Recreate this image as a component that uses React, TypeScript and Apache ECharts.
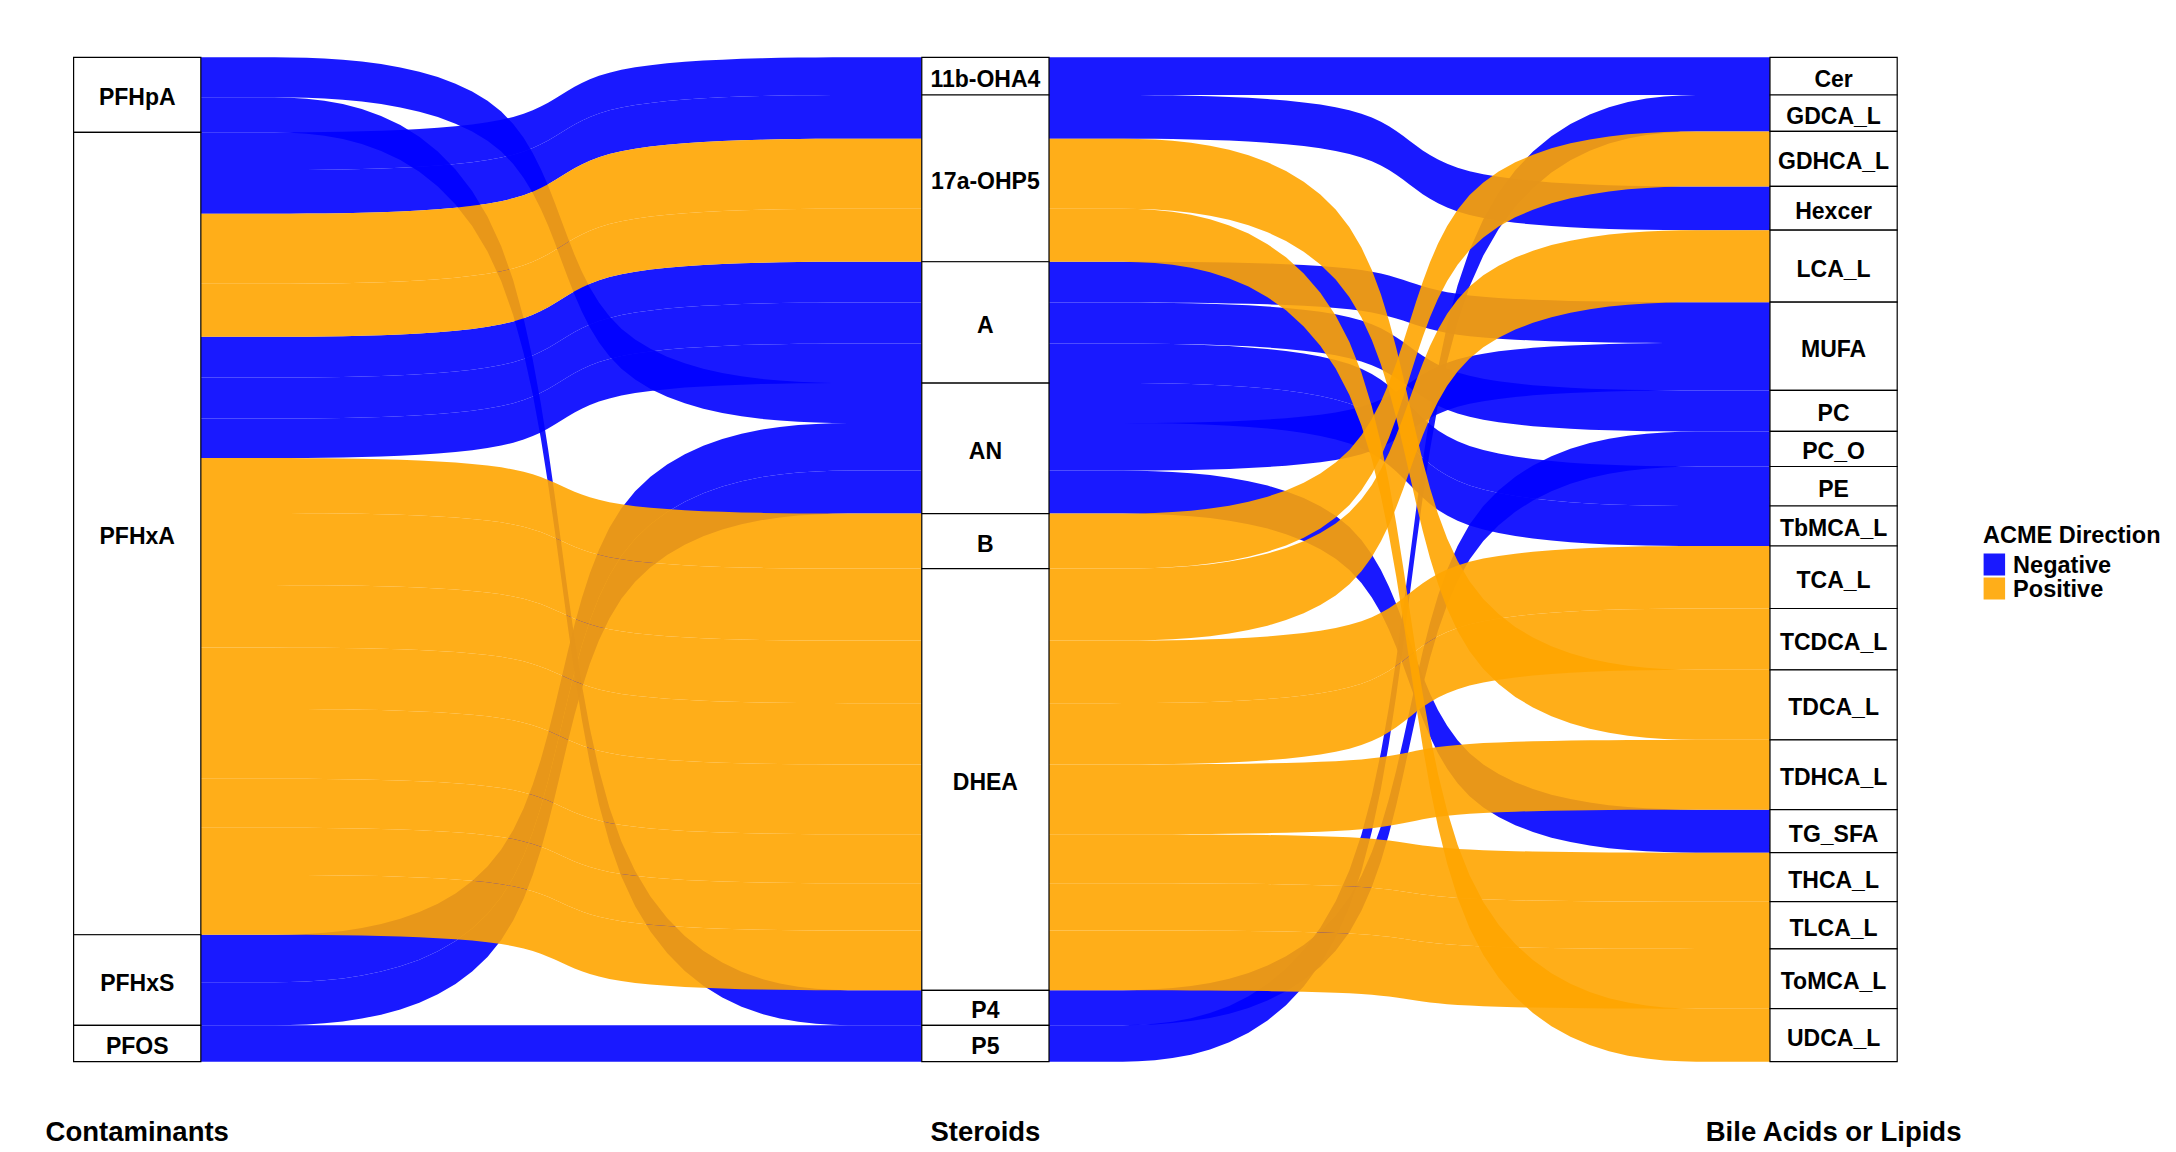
import React, { useEffect, useRef } from "react";
import * as echarts from "echarts";

// ---------- data ----------
const contaminants = ["PFHpA", "PFHxA", "PFHxS", "PFOS"];
const steroids = ["11b-OHA4", "17a-OHP5", "A", "AN", "B", "DHEA", "P4", "P5"];
const outcomes = [
  "Cer", "GDCA_L", "GDHCA_L", "Hexcer", "LCA_L", "MUFA", "PC", "PC_O", "PE", "TbMCA_L",
  "TCA_L", "TCDCA_L", "TDCA_L", "TDHCA_L", "TG_SFA", "THCA_L", "TLCA_L", "ToMCA_L", "UDCA_L",
];
const axisTitles = ["Contaminants", "Steroids", "Bile Acids or Lipids"];
const directions = ["Negative", "Positive"];

// one entry per alluvium (contaminant -> steroid -> bile acid / lipid)
const alluviumContaminant = [
  "PFHpA", "PFHpA", "PFHxA", "PFHxA", "PFHxA", "PFHxA", "PFHxA", "PFHxA", "PFHxA", "PFHxA",
  "PFHxA", "PFHxA", "PFHxA", "PFHxA", "PFHxA", "PFHxA", "PFHxA", "PFHxS", "PFHxS", "PFOS",
];
const alluviumSteroid = [
  "AN", "P4", "11b-OHA4", "17a-OHP5", "17a-OHP5", "17a-OHP5", "A", "A", "A", "B",
  "DHEA", "DHEA", "DHEA", "DHEA", "DHEA", "DHEA", "DHEA", "AN", "AN", "P5",
];
const alluviumOutcome = [
  "TbMCA_L", "PC_O", "Cer", "Hexcer", "TDCA_L", "UDCA_L", "MUFA", "PC", "PE", "GDHCA_L",
  "LCA_L", "TCA_L", "TCDCA_L", "TDHCA_L", "THCA_L", "TLCA_L", "ToMCA_L", "MUFA", "TG_SFA", "GDCA_L",
];
const alluviumDirection = [
  "Negative", "Negative", "Negative", "Negative", "Positive", "Positive", "Negative", "Negative", "Negative", "Positive",
  "Positive", "Positive", "Positive", "Positive", "Positive", "Positive", "Positive", "Negative", "Negative", "Negative",
];
const alluviumWeight = [
  4.0, 3.5, 3.77, 4.37, 7.0, 5.3, 4.08, 4.1, 3.95, 5.5,
  7.2, 6.25, 6.13, 6.98, 4.9, 4.72, 5.98, 4.75, 4.3, 3.64,
];

// ---------- styling / geometry ----------
const HALF_WIDTH = 0.075;
const KNOT = 0.5;
const COLORS: Record<string, string> = {
  Negative: "rgba(0,0,255,0.9)",
  Positive: "rgba(255,165,0,0.9)",
};
const FONT = '"Liberation Sans", Arial, sans-serif';

const TOTAL = alluviumWeight.reduce((s, v) => s + v, 0);

function layoutAxis(strata: string[], keys: string[]) {
  const n = keys.length;
  const order = Array.from({ length: n }, (_, i) => i).sort(
    (a, b) => strata.indexOf(keys[a]) - strata.indexOf(keys[b]) || a - b
  );
  const top: number[] = new Array(n);
  const bottom: number[] = new Array(n);
  let y = 0;
  for (const i of order) {
    top[i] = y;
    y += alluviumWeight[i];
    bottom[i] = y;
  }
  const boxes = strata.map((s) => {
    let y0 = Infinity;
    let y1 = -Infinity;
    keys.forEach((k, i) => {
      if (k === s) {
        y0 = Math.min(y0, top[i]);
        y1 = Math.max(y1, bottom[i]);
      }
    });
    return { name: s, y0, y1 };
  });
  return { top, bottom, boxes };
}

const layouts = [
  layoutAxis(contaminants, alluviumContaminant),
  layoutAxis(steroids, alluviumSteroid),
  layoutAxis(outcomes, alluviumOutcome),
];

function bspline(p: number[][], samples = 14): number[][] {
  const c = [p[0], p[0], p[0], p[1], p[2], p[3], p[3], p[3]];
  const out: number[][] = [];
  for (let s = 0; s < c.length - 3; s++) {
    for (let j = 0; j < samples; j++) {
      const t = j / samples;
      const b0 = Math.pow(1 - t, 3) / 6;
      const b1 = (3 * t * t * t - 6 * t * t + 4) / 6;
      const b2 = (-3 * t * t * t + 3 * t * t + 3 * t + 1) / 6;
      const b3 = (t * t * t) / 6;
      out.push([
        b0 * c[s][0] + b1 * c[s + 1][0] + b2 * c[s + 2][0] + b3 * c[s + 3][0],
        b0 * c[s][1] + b1 * c[s + 1][1] + b2 * c[s + 2][1] + b3 * c[s + 3][1],
      ]);
    }
  }
  out.push(p[3]);
  return out;
}

function edge(x0: number, x1: number, ya: number, yb: number) {
  const L = x1 - x0;
  return bspline([
    [x0, ya],
    [x0 + KNOT * L, ya],
    [x1 - KNOT * L, yb],
    [x1, yb],
  ]);
}

const strataNames: string[] = [];
const strataData: number[][] = [];
layouts.forEach((lay, a) => {
  lay.boxes.forEach((b) => {
    strataNames.push(b.name);
    strataData.push([a + 1, b.y0, b.y1, strataNames.length - 1]);
  });
});

function flowSeries(dir: string, z: number) {
  const data = alluviumDirection
    .map((d, i) => (d === dir ? [2, 0, i] : null))
    .filter((d) => d !== null) as number[][];
  return {
    type: "custom",
    name: dir,
    coordinateSystem: "cartesian2d",
    z,
    itemStyle: { color: COLORS[dir] },
    encode: { x: 0, y: 1 },
    data,
    renderItem: (params: any, api: any) => {
      const i = api.value(2);
      const children: any[] = [];
      for (let a = 0; a < 2; a++) {
        const L = layouts[a];
        const R = layouts[a + 1];
        const x0 = a + 1 + HALF_WIDTH;
        const x1 = a + 2 - HALF_WIDTH;
        const t = edge(x0, x1, L.top[i], R.top[i]);
        const b = edge(x0, x1, L.bottom[i], R.bottom[i]).reverse();
        const pts = t.concat(b).map((p) => api.coord(p));
        children.push({
          type: "polygon",
          shape: { points: pts },
          style: { fill: COLORS[dir], lineWidth: 0 },
        });
      }
      return { type: "group", children };
    },
  };
}

export default function App() {
  const ref = useRef<HTMLDivElement>(null);
  useEffect(() => {
    if (!ref.current) return;
    const chart = echarts.init(ref.current, null, { renderer: "svg" });
    chart.setOption({
      animation: false,
      backgroundColor: "#ffffff",
      textStyle: { fontFamily: FONT },
      title: {
        text: "ACME Direction",
        left: 1983,
        top: 523,
        padding: 0,
        textStyle: { fontSize: 23.5, fontWeight: "bold", color: "#000", fontFamily: FONT },
      },
      legend: {
        data: directions,
        orient: "vertical",
        left: 1983.6,
        top: 552.5,
        padding: 0,
        itemWidth: 21.5,
        itemHeight: 22,
        itemGap: 0,
        icon: "rect",
        selectedMode: false,
        textStyle: {
          fontSize: 23.5,
          fontWeight: "bold",
          color: "#000",
          fontFamily: FONT,
          lineHeight: 22,
          padding: [0, 0, 0, 3],
        },
      },
      grid: { left: 73.6, right: 278.8, top: 57.3, bottom: 90.3 },
      xAxis: {
        type: "value",
        min: 1 - HALF_WIDTH,
        max: 3 + HALF_WIDTH,
        axisLine: { show: false },
        axisTick: { show: false },
        splitLine: { show: false },
        axisLabel: {
          customValues: [1, 2, 3],
          formatter: (v: number) => axisTitles[Math.round(v) - 1] || "",
          fontSize: 27.5,
          fontWeight: "bold",
          color: "#000",
          fontFamily: FONT,
          margin: 56,
        },
      },
      yAxis: {
        type: "value",
        inverse: true,
        min: 0,
        max: TOTAL,
        show: false,
        splitLine: { show: false },
      },
      series: [
        flowSeries("Negative", 1),
        flowSeries("Positive", 2),
        {
          type: "custom",
          name: "strata",
          coordinateSystem: "cartesian2d",
          z: 5,
          encode: { x: 0, y: 1 },
          data: strataData,
          renderItem: (params: any, api: any) => {
            const ax = api.value(0);
            const y0 = api.value(1);
            const y1 = api.value(2);
            const k = api.value(3);
            const p0 = api.coord([ax - HALF_WIDTH, y0]);
            const p1 = api.coord([ax + HALF_WIDTH, y1]);
            return {
              type: "group",
              children: [
                {
                  type: "rect",
                  shape: { x: p0[0], y: p0[1], width: p1[0] - p0[0], height: p1[1] - p0[1] },
                  style: { fill: "#ffffff", stroke: "#000000", lineWidth: 1.2 },
                },
                {
                  type: "text",
                  style: {
                    text: strataNames[k],
                    x: (p0[0] + p1[0]) / 2,
                    y: (p0[1] + p1[1]) / 2 + 2.5,
                    align: "center",
                    verticalAlign: "middle",
                    fill: "#000000",
                    font: `bold 23px ${FONT}`,
                  },
                },
              ],
            };
          },
        },
      ],
    });
    return () => chart.dispose();
  }, []);
  return (
    <div
      ref={ref}
      style={{ position: "fixed", left: 0, top: 0, width: 2176, height: 1152, background: "#fff" }}
    />
  );
}
